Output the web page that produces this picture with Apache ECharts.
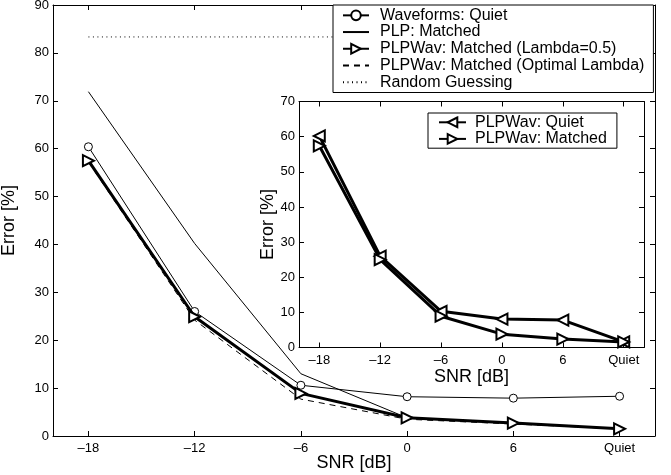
<!DOCTYPE html>
<html>
<head>
<meta charset="utf-8">
<script src="https://cdn.jsdelivr.net/npm/echarts@6/dist/echarts.min.js"></script>
<style>
html,body{margin:0;padding:0;background:#fff;}
#chart{width:671px;height:475px;}
</style>
</head>
<body>
<div id="chart"></div>
<script>
// ---- data ----
var snr = [-18, -12, -6, 0, 6, 12];          // 12 is plotted as "Quiet"
var tickValues = [-18, -12, -6, 0, 6, 12];
var tickLabels = ['\u201318', '\u201312', '\u20136', '0', '6', 'Quiet'];
var waveQuiet = [60.4, 26.0, 10.6, 8.2, 7.9, 8.3];
var plpMatched = [71.9, 40.2, 13.0, 3.8, 2.6, 1.5];
var plpwavLambda = [57.5, 24.9, 8.9, 3.8, 2.7, 1.5];
var plpwavOptimal = [57.2, 24.2, 7.7, 3.5, 2.5, 1.5];
var randomX = [-18, 12];
var randomY = [83.33, 83.33];
var insetQuiet = [60.2, 26.0, 10.3, 8.1, 7.8, 1.6];
var insetMatched = [57.4, 25.0, 8.9, 3.8, 2.4, 1.6];

function pairs(xs, ys) { return xs.map(function (x, i) { return [x, ys[i]]; }); }

var FONT = 'Liberation Sans, Arial, Helvetica, sans-serif';
var RIGHT_TRI = 'path://M0,0L10,5L0,10Z';
var LEFT_TRI = 'path://M10,0L0,5L10,10Z';

function labelFmt(v) {
  var i = tickValues.indexOf(v);
  return i >= 0 ? tickLabels[i] : '';
}

function xAx(grid, pos, showLabel, name, nameGap) {
  return {
    type: 'value', gridIndex: grid, position: pos, min: -20, max: 14,
    splitLine: { show: false },
    axisLine: { show: true, onZero: false, lineStyle: { color: '#000', width: 1 } },
    axisTick: { show: true, inside: true, length: 5, customValues: tickValues, lineStyle: { color: '#000' } },
    axisLabel: { show: showLabel, customValues: tickValues, formatter: labelFmt, color: '#000', fontFamily: FONT, fontSize: 13, margin: 6 },
    name: name || '', nameLocation: 'middle', nameGap: nameGap || 0, nameMoveOverlap: false,
    nameTextStyle: { color: '#000', fontFamily: FONT, fontSize: 18 }
  };
}
function yAx(grid, pos, showLabel, max, name, nameGap) {
  return {
    type: 'value', gridIndex: grid, position: pos, min: 0, max: max, interval: 10,
    splitLine: { show: false },
    axisLine: { show: true, onZero: false, lineStyle: { color: '#000', width: 1 } },
    axisTick: { show: true, inside: true, length: 5, lineStyle: { color: '#000' } },
    axisLabel: { show: showLabel, color: '#000', fontFamily: FONT, fontSize: 13, margin: 4 },
    name: name || '', nameLocation: 'middle', nameGap: nameGap || 0, nameRotate: 90, nameMoveOverlap: false,
    nameTextStyle: { color: '#000', fontFamily: FONT, fontSize: 18 }
  };
}

var noSym = { opacity: 0 };

var chart = echarts.init(document.getElementById('chart'), null, { renderer: 'canvas' });
chart.setOption({
  animation: false,
  backgroundColor: '#fff',
  textStyle: { fontFamily: FONT },
  grid: [
    { left: 53, top: 5, right: 16, bottom: 39, show: true, backgroundColor: '#fff', borderWidth: 0, containLabel: false, outerBoundsMode: 'none' },
    { left: 299, top: 101.5, right: 27, bottom: 127.5, show: true, backgroundColor: '#fff', borderWidth: 0, containLabel: false, outerBoundsMode: 'none' }
  ],
  xAxis: [
    xAx(0, 'bottom', true, 'SNR [dB]', 18),
    xAx(0, 'top', false),
    xAx(1, 'bottom', true, 'SNR [dB]', 21),
    xAx(1, 'top', false)
  ],
  yAxis: [
    yAx(0, 'left', true, 90, 'Error [%]', 35),
    yAx(0, 'right', false, 90),
    yAx(1, 'left', true, 70, 'Error [%]', 22),
    yAx(1, 'right', false, 70)
  ],
  legend: [
    {
      data: [
        { name: 'Waveforms: Quiet' },
        { name: 'PLP: Matched', itemStyle: noSym },
        { name: 'PLPWav: Matched (Lambda=0.5)' },
        { name: 'PLPWav: Matched (Optimal Lambda)', itemStyle: noSym },
        { name: 'Random Guessing', itemStyle: noSym }
      ],
      orient: 'vertical', left: 333, top: 5,
      padding: [2, 9, 2, 9], itemGap: 0, itemWidth: 26, itemHeight: 12,
      backgroundColor: '#fff', borderColor: '#000', borderWidth: 1,
      textStyle: { color: '#000', fontFamily: FONT, fontSize: 16, lineHeight: 16.7, padding: [0, 0, 0, 6] },
      selectedMode: false
    },
    {
      data: ['PLPWav: Quiet', 'PLPWav: Matched'],
      orient: 'vertical', left: 428, top: 113,
      padding: [1, 10, 1, 10], itemGap: 0, itemWidth: 27, itemHeight: 12,
      backgroundColor: '#fff', borderColor: '#000', borderWidth: 1,
      textStyle: { color: '#000', fontFamily: FONT, fontSize: 16, lineHeight: 16.6, padding: [0, 0, 0, 4] },
      selectedMode: false
    }
  ],
  series: [
    {
      name: 'Waveforms: Quiet', type: 'line', xAxisIndex: 0, yAxisIndex: 0,
      data: pairs(snr, waveQuiet), symbol: 'circle', symbolSize: 8,
      lineStyle: { color: '#000', width: 1 },
      itemStyle: { color: '#fff', borderColor: '#000', borderWidth: 1 }, z: 3
    },
    {
      name: 'PLP: Matched', type: 'line', xAxisIndex: 0, yAxisIndex: 0,
      data: pairs(snr, plpMatched), symbol: 'none',
      lineStyle: { color: '#000', width: 1 }, itemStyle: { color: '#000' }, z: 2
    },
    {
      name: 'PLPWav: Matched (Lambda=0.5)', type: 'line', xAxisIndex: 0, yAxisIndex: 0,
      data: pairs(snr, plpwavLambda), symbol: RIGHT_TRI, symbolSize: 11,
      lineStyle: { color: '#000', width: 3 },
      itemStyle: { color: '#fff', borderColor: '#000', borderWidth: 2 }, z: 4
    },
    {
      name: 'PLPWav: Matched (Optimal Lambda)', type: 'line', xAxisIndex: 0, yAxisIndex: 0,
      data: pairs(snr, plpwavOptimal), symbol: 'none',
      lineStyle: { color: '#000', width: 1, type: [6, 5] }, itemStyle: { color: '#000' }, z: 2
    },
    {
      name: 'Random Guessing', type: 'line', xAxisIndex: 0, yAxisIndex: 0,
      data: pairs(randomX, randomY), symbol: 'none',
      lineStyle: { color: '#000', width: 1, type: [1, 3.5] }, itemStyle: { color: '#000' }, z: 2
    },
    {
      name: 'PLPWav: Quiet', type: 'line', xAxisIndex: 2, yAxisIndex: 2,
      data: pairs(snr, insetQuiet), symbol: LEFT_TRI, symbolSize: 11,
      lineStyle: { color: '#000', width: 3 },
      itemStyle: { color: '#fff', borderColor: '#000', borderWidth: 2 }, z: 4
    },
    {
      name: 'PLPWav: Matched', type: 'line', xAxisIndex: 2, yAxisIndex: 2,
      data: pairs(snr, insetMatched), symbol: RIGHT_TRI, symbolSize: 11,
      lineStyle: { color: '#000', width: 3 },
      itemStyle: { color: '#fff', borderColor: '#000', borderWidth: 2 }, z: 4
    }
  ]
});
</script>
</body>
</html>
